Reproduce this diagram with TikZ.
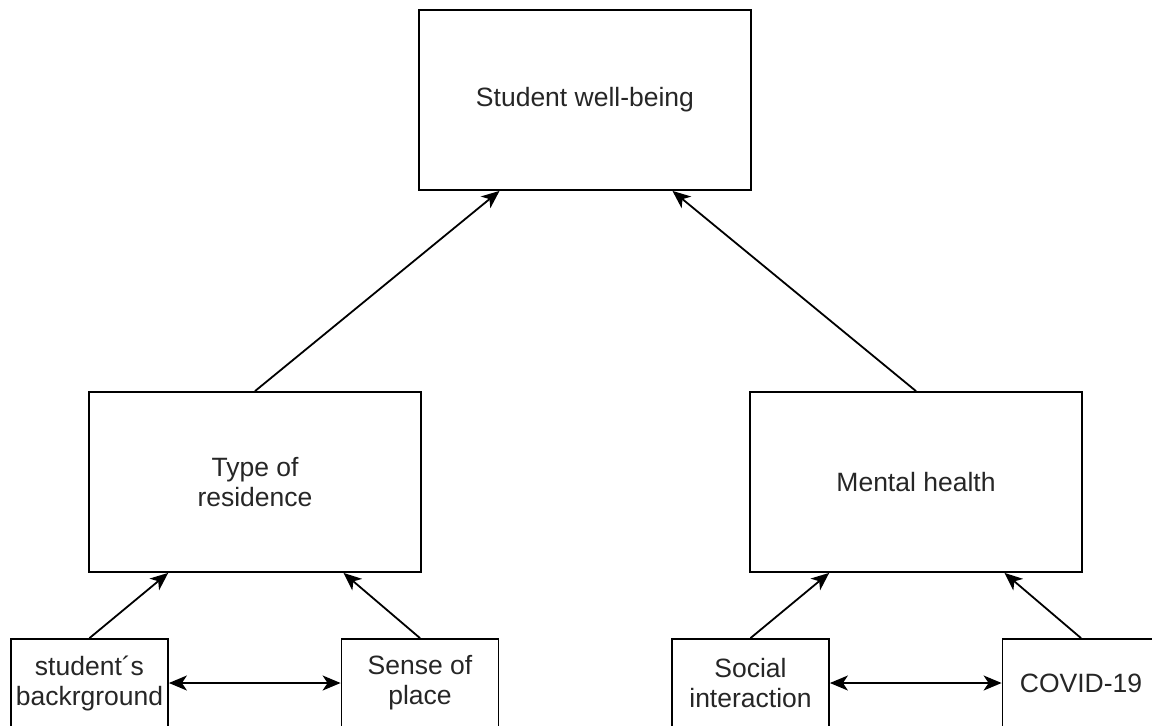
\documentclass[tikz,border=0pt]{standalone}
\usepackage{fontspec}
\setmainfont{Liberation Sans}
\usetikzlibrary{arrows.meta,calc}
\begin{document}
\begin{tikzpicture}[x=1pt,y=-1pt,
  box/.style={draw=black,line width=1.8pt,fill=white,inner sep=0pt,align=center,
    font=\fontsize{26.5}{30}\selectfont,text=black!85},
  bigbox/.style={box,minimum width=332pt,minimum height=180pt},
  smallbox/.style={box,minimum width=157pt,minimum height=88pt},
  tip/.tip={Stealth[length=18pt,width=15pt,inset=5pt]},
  arr/.style={line width=1.8pt,-tip},
  darr/.style={line width=1.8pt,tip-tip}]
\useasboundingbox (0,0) rectangle (1152,726);
\clip (0,0) rectangle (1152,726);
\node[bigbox] (wb) at (585,100) {Student well-being};
\node[bigbox] (tor) at (255,482) {Type of\\residence};
\node[bigbox] (mh) at (916,482) {Mental health};
\node[smallbox] (sb) at (89.5,683) {student´s\\backrground};
\node[smallbox] (sp) at (420,683) {Sense of\\place};
\node[smallbox] (si) at (750.5,683) {Social\\interaction};
\node[smallbox] (cv) at (1081,683) {COVID-19};
\draw[arr] (tor.north) -- ($(wb.south west)!0.244!(wb.south east)$);
\draw[arr] (mh.north) -- ($(wb.south west)!0.762!(wb.south east)$);
\draw[arr] (sb.north) -- ($(tor.south west)!0.24!(tor.south east)$);
\draw[arr] (sp.north) -- ($(tor.south west)!0.765!(tor.south east)$);
\draw[arr] (si.north) -- ($(mh.south west)!0.24!(mh.south east)$);
\draw[arr] (cv.north) -- ($(mh.south west)!0.765!(mh.south east)$);
\draw[darr] (sb.east) -- (sp.west);
\draw[darr] (si.east) -- (cv.west);
\end{tikzpicture}
\end{document}
